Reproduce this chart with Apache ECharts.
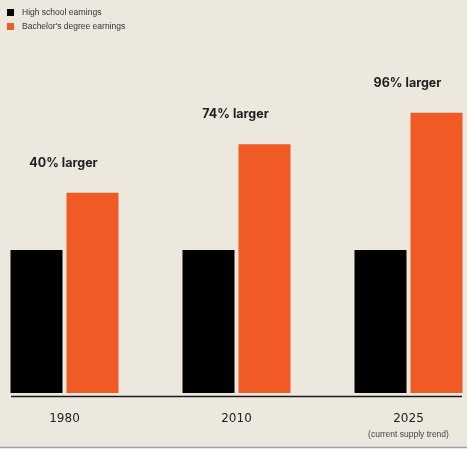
<!DOCTYPE html>
<html>
<head>
<meta charset="utf-8">
<script src="https://cdn.jsdelivr.net/npm/echarts@6/dist/echarts.min.js"></script>
<style>
html,body{margin:0;padding:0;background:#ffffff;}
#c{width:467px;height:449px;}
</style>
</head>
<body>
<div id="c"></div>
<script>
const categories = ['1980', '2010', '2025'];
const categorySubtitles = ['', '', '(current supply trend)'];
const highSchool = [100, 100, 100];
const bachelors = [140, 174, 196];
const premiumLabels = ['40% larger', '74% larger', '96% larger'];
const seriesNames = ['High school earnings', "Bachelor's degree earnings"];

const chart = echarts.init(document.getElementById('c'), null, {renderer: 'canvas'});
chart.setOption({
  backgroundColor: '#ffffff',
  animation: false,
  graphic: [
    {type: 'rect', shape: {x: 0, y: 0, width: 467, height: 447}, style: {fill: '#ece8dd'}, z: -10, silent: true},
    {type: 'line', shape: {x1: 0, y1: 447.5, x2: 467, y2: 447.5}, style: {stroke: '#9a9ea8', lineWidth: 1.5}, z: -5, silent: true},
    {type: 'line', shape: {x1: 11, y1: 396.5, x2: 462, y2: 396.5}, style: {stroke: '#1a1a1a', lineWidth: 1.3}, z: 10, silent: true}
  ],
  legend: {
    orient: 'vertical',
    left: 2,
    top: 3,
    itemWidth: 7,
    itemHeight: 7,
    itemGap: 5,
    icon: 'rect',
    textStyle: {fontFamily: 'Liberation Sans', fontSize: 8.5, color: '#333333', padding: [0, 0, 0, 3]},
    data: seriesNames
  },
  grid: {left: -21.5, right: -27.5, top: 107, bottom: 56, containLabel: false, outerBoundsMode: 'none'},
  xAxis: {
    type: 'category',
    data: categories,
    axisLine: {show: false},
    axisTick: {show: false},
    axisLabel: {
      interval: 0,
      margin: 18,
      fontFamily: 'DejaVu Sans',
      fontSize: 12,
      color: '#222222',
      lineHeight: 16,
      formatter: function (v, i) {
        const s = categorySubtitles[i];
        return s ? v + '\n{s|' + s + '}' : v;
      },
      rich: {s: {fontFamily: 'Liberation Sans', fontSize: 8.5, color: '#444444', lineHeight: 14, padding: [2, 0, 0, 0]}}
    }
  },
  yAxis: {
    type: 'value',
    min: 0,
    max: 200,
    show: false,
    splitLine: {show: false}
  },
  series: [
    {
      name: seriesNames[0],
      type: 'bar',
      data: highSchool,
      barWidth: 52,
      barGap: '7.7%',
      itemStyle: {color: '#000000'}
    },
    {
      name: seriesNames[1],
      type: 'bar',
      data: bachelors,
      barWidth: 52,
      itemStyle: {color: '#f05a24'},
      label: {
        show: true,
        position: 'top',
        distance: 23,
        offset: [-29, 0],
        fontFamily: 'Inter',
        fontWeight: 'bold',
        fontSize: 12.5,
        color: '#1e1e1e',
        formatter: function (p) { return premiumLabels[p.dataIndex]; }
      }
    }
  ]
});
</script>
</body>
</html>
